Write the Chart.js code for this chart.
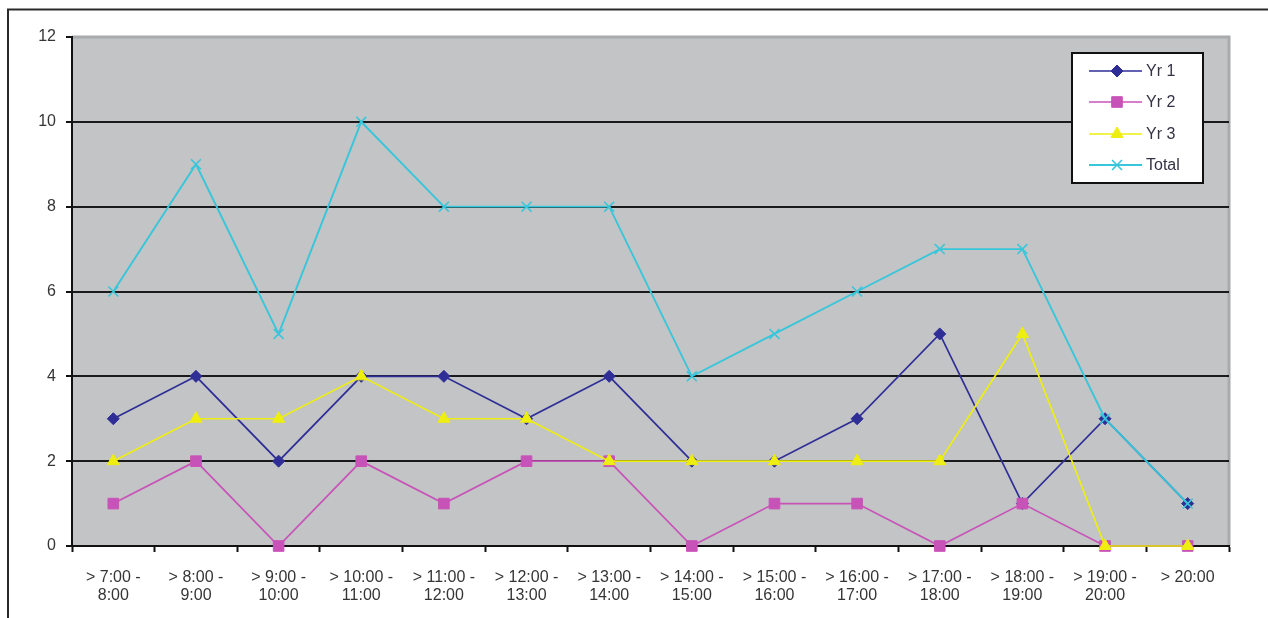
<!DOCTYPE html>
<html>
<head>
<meta charset="utf-8">
<script src="https://cdn.jsdelivr.net/npm/chart.js@4.4.1/dist/chart.umd.min.js"></script>
<style>
  html, body { margin: 0; padding: 0; background: #ffffff; }
  #wrap { width: 1268px; height: 618px; position: relative; }
</style>
</head>
<body>
<div id="wrap"><canvas id="c" width="1268" height="618"></canvas></div>
<script>
const categories = [
  ['> 7:00 -', '8:00'], ['> 8:00 -', '9:00'], ['> 9:00 -', '10:00'], ['> 10:00 -', '11:00'],
  ['> 11:00 -', '12:00'], ['> 12:00 -', '13:00'], ['> 13:00 -', '14:00'], ['> 14:00 -', '15:00'],
  ['> 15:00 -', '16:00'], ['> 16:00 -', '17:00'], ['> 17:00 -', '18:00'], ['> 18:00 -', '19:00'],
  ['> 19:00 -', '20:00'], '> 20:00'
];
const yr1   = [3, 4, 2, 4, 4, 3, 4, 2, 2, 3, 5, 1, 3, 1];
const yr2   = [1, 2, 0, 2, 1, 2, 2, 0, 1, 1, 0, 1, 0, 0];
const yr3   = [2, 3, 3, 4, 3, 3, 2, 2, 2, 2, 2, 5, 0, 0];
const total = [6, 9, 5, 10, 8, 8, 8, 4, 5, 6, 7, 7, 3, 1];
const yTicks = [0, 2, 4, 6, 8, 10, 12];

const FONT = '"Liberation Sans", Arial, sans-serif';

const framePlugin = {
  id: 'frame',
  beforeDraw(chart) {
    const { ctx, chartArea: a } = chart;
    ctx.save();
    ctx.fillStyle = '#ffffff';
    ctx.fillRect(0, 0, chart.width, chart.height);
    ctx.strokeStyle = '#2a2a2a';
    ctx.lineWidth = 2;
    ctx.beginPath();
    ctx.moveTo(8, 618);
    ctx.lineTo(8, 9.5);
    ctx.lineTo(1268, 9.5);
    ctx.stroke();
    ctx.fillStyle = '#c3c4c6';
    ctx.fillRect(a.left, a.top, a.right - a.left, a.bottom - a.top);
    ctx.strokeStyle = '#a9aaac';
    ctx.lineWidth = 3;
    ctx.beginPath();
    ctx.moveTo(a.left, a.top);
    ctx.lineTo(a.right, a.top);
    ctx.lineTo(a.right, a.bottom);
    ctx.stroke();
    ctx.restore();
  }
};

const legendPlugin = {
  id: 'boxLegend',
  afterDraw(chart) {
    const { ctx } = chart;
    const x0 = 1072, y0 = 53, w = 131, h = 130;
    ctx.save();
    ctx.fillStyle = '#ffffff';
    ctx.fillRect(x0, y0, w, h);
    ctx.strokeStyle = '#111111';
    ctx.lineWidth = 2;
    ctx.strokeRect(x0, y0, w, h);
    const rows = [71, 102, 134, 165];
    chart.data.datasets.forEach((ds, i) => {
      const y = rows[i];
      ctx.strokeStyle = ds.borderColor;
      ctx.lineWidth = ds.borderWidth;
      ctx.beginPath();
      ctx.moveTo(1089, y);
      ctx.lineTo(1142, y);
      ctx.stroke();
      ctx.fillStyle = ds.pointBackgroundColor;
      ctx.strokeStyle = ds.pointBorderColor;
      ctx.lineWidth = ds.pointBorderWidth;
      Chart.helpers.drawPoint(ctx, {
        pointStyle: ds.pointStyle,
        radius: ds.pointRadius,
        rotation: 0,
        borderWidth: ds.pointBorderWidth
      }, 1117, y);
      ctx.fillStyle = '#333344';
      ctx.font = '16px ' + FONT;
      ctx.textBaseline = 'middle';
      ctx.textAlign = 'left';
      ctx.fillText(ds.label, 1146, y + 1);
    });
    ctx.restore();
  }
};

const navy = '#2e2e96', magenta = '#c853b8', yellow = '#eeee10', cyan = '#38c6da';

new Chart(document.getElementById('c'), {
  type: 'line',
  data: {
    labels: categories,
    datasets: [
      { label: 'Yr 1', data: yr1, borderColor: navy, backgroundColor: navy, borderWidth: 1.7, clip: false,
        pointStyle: 'rectRot', pointRadius: 6, pointBackgroundColor: navy, pointBorderColor: navy, pointBorderWidth: 1, order: 4 },
      { label: 'Yr 2', data: yr2, borderColor: magenta, backgroundColor: magenta, borderWidth: 1.7, clip: false,
        pointStyle: 'rect', pointRadius: 7.5, pointBackgroundColor: magenta, pointBorderColor: magenta, pointBorderWidth: 1, order: 3 },
      { label: 'Yr 3', data: yr3, borderColor: yellow, backgroundColor: yellow, borderWidth: 1.7, clip: false,
        pointStyle: 'triangle', pointRadius: 7, pointBackgroundColor: yellow, pointBorderColor: yellow, pointBorderWidth: 1, order: 2 },
      { label: 'Total', data: total, borderColor: cyan, backgroundColor: cyan, borderWidth: 1.9, clip: false,
        pointStyle: 'crossRot', pointRadius: 7, pointBackgroundColor: cyan, pointBorderColor: cyan, pointBorderWidth: 1.6, order: 1 }
    ]
  },
  options: {
    responsive: false,
    animation: false,
    layout: { padding: { top: 37, right: 39, left: 0, bottom: 0 } },
    plugins: { legend: { display: false }, tooltip: { enabled: false } },
    elements: { line: { tension: 0 } },
    scales: {
      x: {
        type: 'category',
        offset: true,
        afterFit(s) { s.height = 72; },
        grid: { offset: true, drawOnChartArea: false, drawTicks: true, tickLength: 6, tickColor: '#111111', tickWidth: 2 },
        border: { color: '#111111', width: 2 },
        ticks: { color: '#353535', font: { family: FONT, size: 16, lineHeight: 1.15 }, padding: 16, maxRotation: 0, autoSkip: false }
      },
      y: {
        min: 0, max: 12,
        afterFit(s) { s.width = 72; },
        afterBuildTicks(s) { s.ticks = yTicks.map(v => ({ value: v })); },
        grid: {
          color: (c) => c.tick && c.tick.value === 12 ? 'rgba(0,0,0,0)' : '#1a1a1a',
          lineWidth: 2, drawTicks: true, tickLength: 6, tickColor: '#111111', tickWidth: 2
        },
        border: { color: '#111111', width: 2 },
        ticks: { color: '#353535', font: { family: FONT, size: 16 }, padding: 10 }
      }
    }
  },
  plugins: [framePlugin, legendPlugin]
});
</script>
</body>
</html>
